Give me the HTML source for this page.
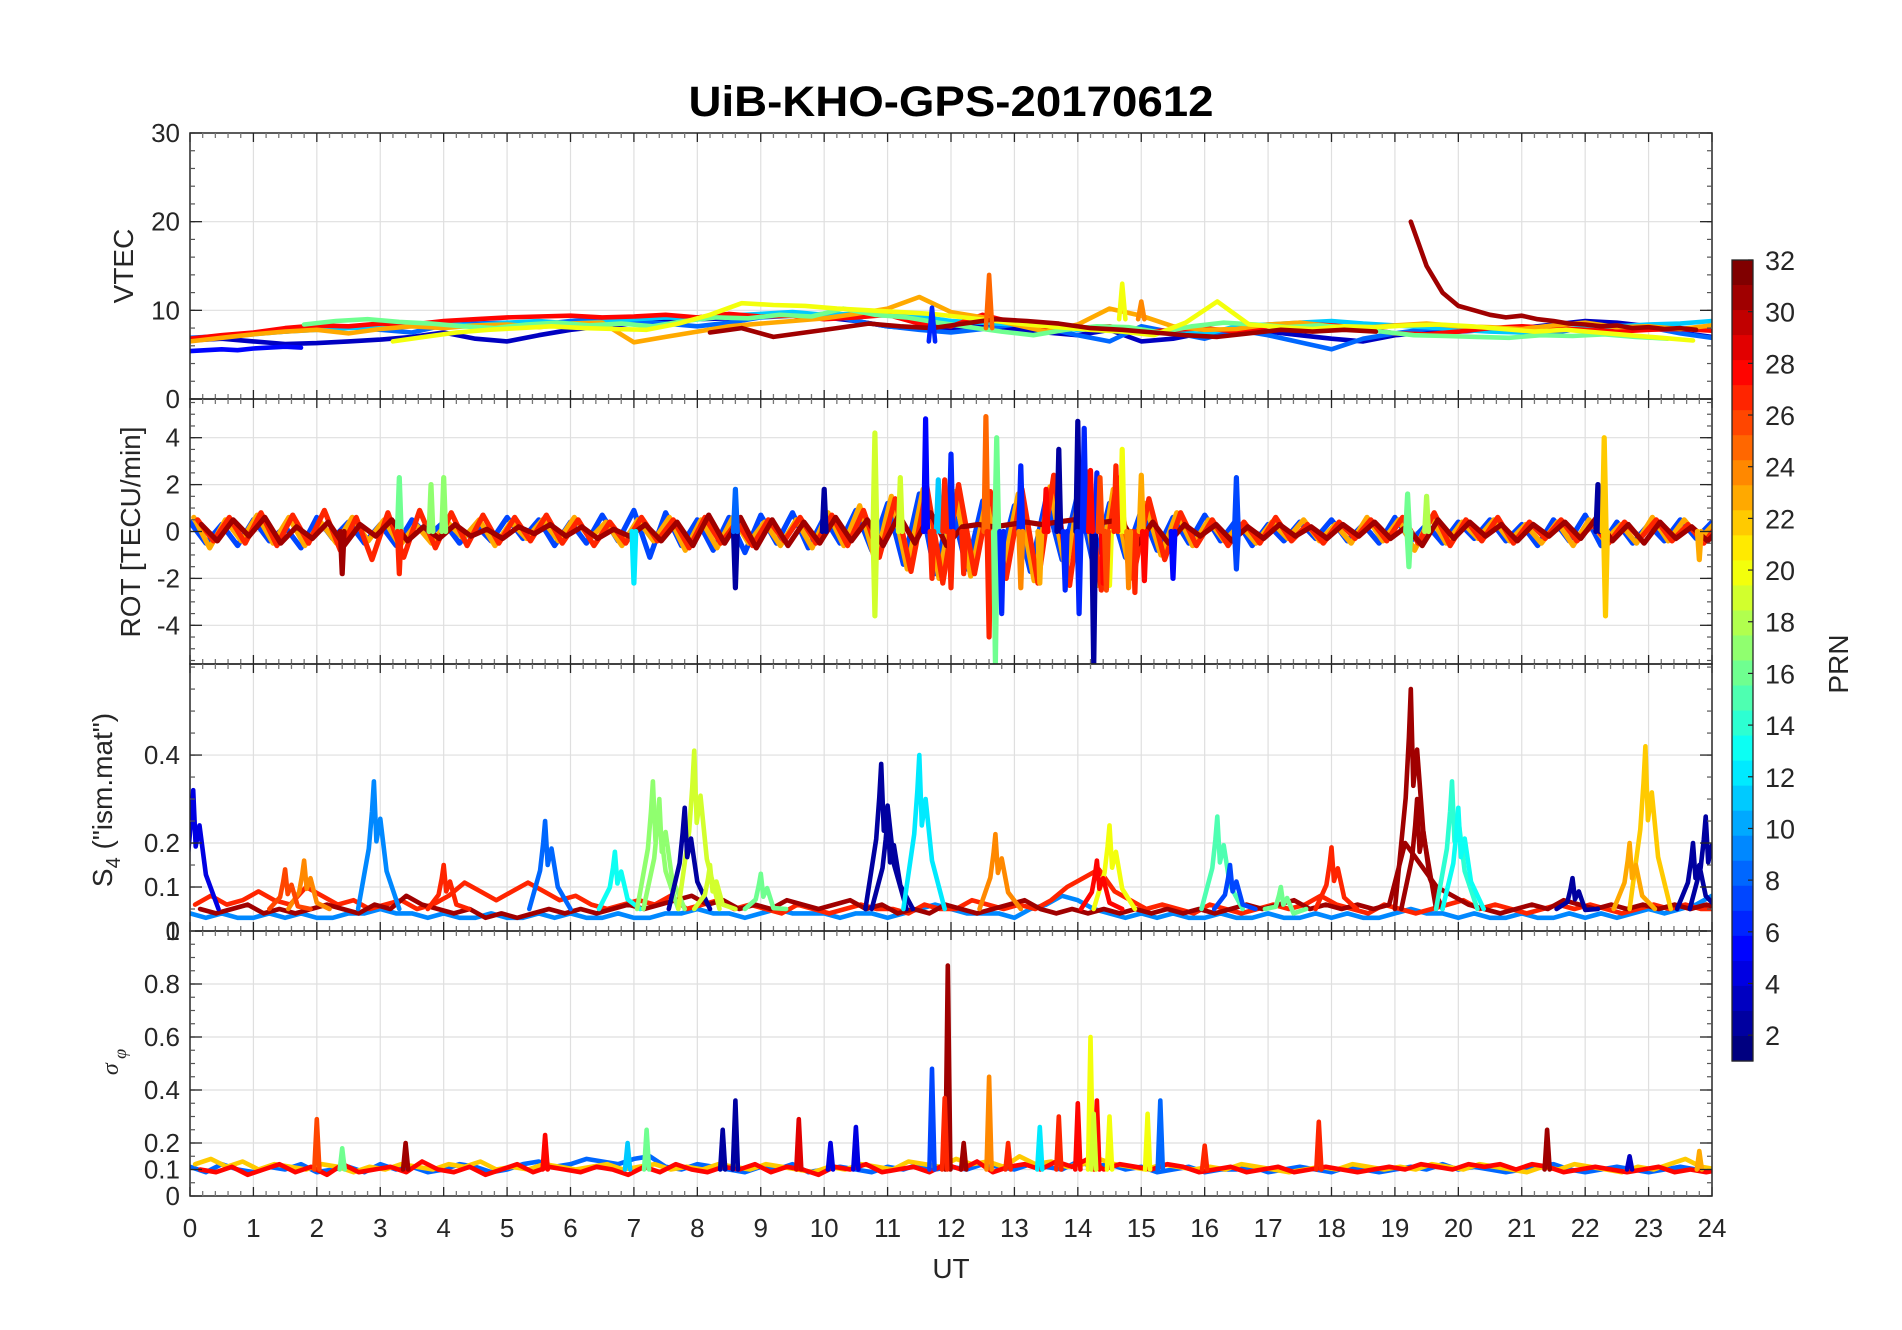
<!DOCTYPE html>
<html><head><meta charset="utf-8"><title>UiB-KHO-GPS-20170612</title>
<style>
html,body{margin:0;padding:0;background:#fff;}
svg{display:block;font-family:"Liberation Sans",Arial,sans-serif;}
</style></head>
<body>
<svg id="fig" width="1902" height="1330" viewBox="0 0 1902 1330" xmlns="http://www.w3.org/2000/svg">
<rect width="1902" height="1330" fill="#fff"/>
<text x="951" y="116" text-anchor="middle" font-size="43" font-weight="bold" textLength="525" lengthAdjust="spacingAndGlyphs" fill="#000">UiB-KHO-GPS-20170612</text>
<g id="panels"></g>
<text x="951" y="1278" text-anchor="middle" font-size="28" fill="#262626">UT</text>
<text transform="translate(133,266) rotate(-90)" text-anchor="middle" font-size="28" fill="#262626">VTEC</text>
<text transform="translate(140,532) rotate(-90)" text-anchor="middle" font-size="28" fill="#262626">ROT [TECU/min]</text>
<text transform="translate(112,800) rotate(-90)" text-anchor="middle" font-size="28" fill="#262626">S<tspan font-size="20" dy="8">4</tspan><tspan dy="-8"> ("ism.mat")</tspan></text>
<text transform="translate(118,1062) rotate(-90)" text-anchor="middle" font-size="24" font-style="italic" font-family="Liberation Serif, serif" fill="#262626">σ<tspan font-size="18" dy="8"> φ</tspan></text>
<g id="colorbar"></g>
<text transform="translate(1848,664) rotate(-90)" text-anchor="middle" font-size="28" fill="#262626">PRN</text>
</svg>
<script>
// ---------- DATA ----------
const xTicks = [0,1,2,3,4,5,6,7,8,9,10,11,12,13,14,15,16,17,18,19,20,21,22,23,24];
const vtecTicks = [0,10,20,30];
const rotTicks = [-4,-2,0,2,4];
const s4Ticks = [0,0.1,0.2,0.4];
const sigTicks = [0,0.1,0.2,0.4,0.6,0.8];
const cbTicks = [2,4,6,8,10,12,14,16,18,20,22,24,26,28,30,32];

// VTEC series: prn, start hour, step (h), values
const vtecPrn = [3,8,11,28,23,16,20,5,31,31];
const vtecT0 = [0,0,0,0,0,1.8,3.2,0,8.2,19.25];
const vtecStep = [0.5,0.5,0.5,0.5,0.5,0.5,0.5,0.25,0.5,0.25];
const vtecVals = [
 [6.6,6.8,6.5,6.2,6.3,6.5,6.7,7,7.5,6.8,6.5,7.2,7.8,8.2,8.5,8.8,9,9.1,9.3,9.5,9.2,8.8,8.2,7.9,8,8.3,7.9,7.5,7.2,7.8,6.5,6.8,7.5,7.8,7.6,7.2,6.8,6.5,7.2,7.5,7.6,7.8,8,8.4,8.8,8.6,8.2,7.5,7],
 [6.9,7.1,7.4,7.6,7.9,8.1,7.8,7.5,8.3,8.5,8.6,8.4,8.8,9,8.7,8.5,8.2,8.6,9.2,9.4,9.6,8.8,8.2,7.8,7.5,7.9,8.4,8,7.2,6.5,8.2,7.5,6.8,7.8,7.2,6.4,5.6,6.8,7.4,7.9,8.1,8,7.7,7.5,8,8.3,8.1,7.4,6.9],
 [6.6,7,7.3,7.6,7.8,8,8.2,8.3,8.4,8.3,8.6,8.8,8.5,8.7,9,9.2,9.1,9.4,9.6,9.8,9.5,9.6,9.4,9.3,8.8,8.6,8.4,8.2,7.8,8,7.5,7.6,7.3,8.2,8.4,8.6,8.8,8.5,8.3,8.1,7.8,7.6,7.5,7.8,8,8.2,8.4,8.5,8.8],
 [6.8,7.2,7.5,8,8.3,8.2,8.5,8.4,8.8,9,9.2,9.3,9.4,9.2,9.3,9.5,9.2,9.6,9.3,9.4,9,9.2,9.5,8.5,8.2,9.5,8.6,7.8,8,8.2,7.5,7.8,8,7.6,8.2,8.5,8.3,8,7.4,7.3,7.6,8,8.2,8,7.8,7.6,7.8,7.9,7.7],
 [6.5,6.9,7.3,7.6,7.8,7.4,7.9,8.2,8,8.3,8.4,8.1,8.5,8.6,6.4,7,7.6,8.2,8.5,8.8,9.1,9.6,10.2,11.5,9.8,9.2,8.4,7.6,8.4,10.2,9.4,8.2,7.8,7.9,8.4,8.6,8.2,8,8.3,8.5,8.2,8.1,7.9,8.3,8.6,8.1,8.2,7.9,8.3],
 [8.4,8.8,9,8.7,8.5,8.2,8,8.4,8.6,8.3,8.5,8.2,8.8,9.2,9.1,9.5,9.3,10.2,9.5,9.2,8.6,8.1,7.6,7.2,7.8,8.2,8.1,7.5,8.2,8.6,8.4,8.1,8.3,8,7.6,7.2,7.1,7,6.9,7.2,7.1,7.3,7,6.8],
 [6.5,7,7.5,7.8,8,8.2,8,7.9,7.8,8.5,9.5,10.8,10.6,10.5,10.2,10,9.8,9.6,9.2,8.8,8.4,8.1,7.8,7.6,7.2,8.6,11,8.4,8.1,7.9,8.2,8.1,8.3,8.4,8.2,7.9,7.6,7.8,7.5,7.2,6.9,6.6],
 [5.4,5.5,5.6,5.5,5.7,5.8,5.9,5.8],
 [7.5,8,7,7.5,8,8.5,8.2,8,8.5,9,8.8,8.5,8,7.8,7.5,7.2,7,7.4,7.8,7.6,7.8,7.6],
 [20,15,12,10.5,10,9.5,9.2,9.4,9,8.8,8.5,8.4,8.2,8.3,8,8.1,7.9,8,7.8]
];
const vtecSpikeT = [12.6,14.7,15.0,11.7];
const vtecSpikeV = [14,13,11,10.3];
const vtecSpikePrn = [25,20,24,6];
const vtecSpikeBase = [8,9,9,6.5];

// ROT baseline series (step 0.25 h from 0)
const rotPrn = [7,23,27,31];
const rotVals = [
 [0.4,-0.5,0.3,-0.6,0.5,-0.4,0.2,-0.7,0.6,-0.3,0.4,-0.5,0.3,-0.6,0.5,-0.2,0.4,-0.5,0.3,-0.4,0.6,-0.3,0.5,-0.6,0.4,-0.5,0.7,-0.4,0.9,-1.1,0.8,-0.6,0.5,-0.8,0.6,-0.9,0.7,-0.5,0.8,-0.7,0.6,-0.5,0.9,-0.8,1.2,-1.4,1.6,-1.8,1.2,-1.6,1.3,-1.5,1.1,-1.7,1.4,-1.2,1.6,-1.5,1.2,-1.1,0.9,-0.8,0.6,-0.5,0.7,-0.4,0.5,-0.6,0.3,-0.4,0.4,-0.3,0.5,-0.4,0.3,-0.5,0.6,-0.4,0.3,-0.5,0.4,-0.3,0.5,-0.4,0.3,-0.6,0.5,-0.4,0.7,-0.6,0.4,-0.5,0.3,-0.4,0.5,-0.3,0.4],
 [0.6,-0.7,0.5,-0.4,0.7,-0.5,0.6,-0.6,0.4,-0.5,0.6,-0.4,0.5,-0.6,0.3,-0.5,0.4,-0.3,0.5,-0.6,0.4,-0.3,0.5,-0.4,0.6,-0.3,0.4,-0.6,0.5,-0.4,0.6,-0.8,0.5,-0.7,0.6,-0.5,0.4,-0.6,0.5,-0.7,0.8,-0.6,1.1,-1.3,1.5,-1.6,1.8,-2,1.7,-1.9,1.4,-1.8,1.6,-2.1,1.9,-1.7,2.2,-2.3,1.8,-1.6,1.2,-1,0.8,-0.6,0.5,-0.4,0.3,-0.5,0.4,-0.3,0.5,-0.4,0.3,-0.5,0.6,-0.4,0.5,-0.8,0.6,-0.5,0.4,-0.3,0.5,-0.4,0.3,-0.5,0.4,-0.6,0.5,-0.4,0.3,-0.5,0.6,-0.4,0.5,-0.3,0.4],
 [0.5,-0.4,0.6,-0.5,0.8,-0.6,0.7,-0.5,0.9,-0.8,0.6,-1.2,0.8,-1.1,0.9,-0.7,0.8,-0.6,0.7,-0.5,0.6,-0.4,0.7,-0.5,0.5,-0.6,0.4,-0.5,0.6,-0.4,0.5,-0.7,0.6,-0.5,0.4,-0.6,0.5,-0.4,0.6,-0.5,0.7,-0.6,0.9,-1.1,1.4,-1.7,1.9,-2.2,2,-1.8,1.7,-2,1.8,-2.2,2.4,-2.3,2.6,-2.5,2.3,-2,1.4,-1.2,0.8,-0.6,0.5,-0.6,0.4,-0.5,0.6,-0.4,0.3,-0.5,0.4,-0.3,0.5,-0.4,0.6,-0.5,0.8,-0.6,0.5,-0.4,0.6,-0.5,0.4,-0.3,0.5,-0.4,0.3,-0.5,0.4,-0.3,0.5,-0.4,0.3,-0.5,0.4],
 [0.3,-0.4,0.5,-0.2,0.6,-0.5,0.2,-0.3,0.4,-0.6,0.3,-0.2,0.5,-0.4,0.2,-0.3,0.3,-0.2,0.1,-0.3,0.2,-0.1,0.3,-0.2,0.2,-0.3,0.1,-0.2,0.3,-0.4,0.4,-0.6,0.7,-0.5,0.6,-0.7,0.5,-0.6,0.4,-0.5,0.6,-0.4,0.5,-0.6,0.7,-0.5,0.8,-0.6,0.2,0.3,0.2,0.3,0.4,0.3,0.4,0.5,0.3,0.4,0.5,-0.6,0.4,-0.5,0.3,-0.2,0.3,-0.4,0.2,-0.3,0.3,-0.2,0.2,-0.3,0.3,-0.2,0.4,-0.3,0.2,-0.6,0.5,-0.3,0.4,-0.2,0.3,-0.4,0.3,-0.2,0.4,-0.3,0.6,-0.4,0.3,-0.5,0.4,-0.3,0.2,-0.4,0.3]
];
const rotSpikeT = [2.4,3.3,3.3,3.8,4.0,7.0,8.6,8.6,10.0,10.8,10.8,11.2,11.6,11.8,12.0,12.0,12.55,12.6,12.7,12.72,12.8,13.1,13.1,13.4,13.7,13.8,14.0,14.02,14.1,14.25,14.3,14.5,14.7,14.9,15.0,15.5,16.5,16.5,19.2,19.5,19.22,22.2,22.3,22.32,23.8,11.7,11.9,12.2,13.5,14.2,14.4,14.6,14.8,15.05,14.35,14.45];
const rotSpikeV = [-1.8,2.3,-1.8,2.0,2.3,-2.2,-2.4,1.8,1.8,4.2,-3.6,2.3,4.8,2.2,3.3,-2.4,4.9,-4.5,-5.6,4.0,-3.5,2.8,-2.4,-2.2,3.5,-2.5,4.7,-3.5,4.4,-5.8,2.5,-2.3,3.5,-2.6,2.4,-2.0,2.3,-1.6,1.6,1.5,-1.5,2.0,4.0,-3.6,-1.2,-2.0,2.2,-1.8,1.8,2.6,-2.2,2.8,-2.4,-2.1,2.3,-2.5];
const rotSpikePrn = [31,16,27,17,17,12,2,8,2,19,19,19,5,11,6,27,25,27,16,16,6,6,24,23,2,6,2,6,6,2,6,20,20,27,23,5,7,7,16,18,16,2,22,22,23,27,27,27,28,28,28,27,24,28,26,26];

// S4 baseline series (step 0.25 h from 0)
const s4Prn = [9,27,31];
const s4Vals = [
 [0.04,0.03,0.04,0.03,0.03,0.04,0.03,0.04,0.03,0.03,0.04,0.04,0.05,0.04,0.04,0.03,0.04,0.03,0.03,0.04,0.03,0.03,0.04,0.03,0.04,0.03,0.03,0.04,0.03,0.03,0.04,0.04,0.05,0.04,0.04,0.03,0.04,0.05,0.04,0.04,0.04,0.03,0.04,0.04,0.03,0.04,0.05,0.06,0.05,0.04,0.04,0.04,0.03,0.05,0.06,0.08,0.07,0.05,0.04,0.03,0.04,0.03,0.04,0.03,0.03,0.04,0.03,0.03,0.04,0.03,0.03,0.04,0.03,0.04,0.03,0.03,0.04,0.05,0.04,0.04,0.03,0.04,0.03,0.03,0.04,0.03,0.03,0.04,0.03,0.04,0.03,0.04,0.05,0.04,0.05,0.06,0.08],
 [0.06,0.08,0.06,0.07,0.09,0.07,0.06,0.1,0.08,0.06,0.07,0.05,0.06,0.07,0.05,0.06,0.08,0.11,0.09,0.07,0.09,0.11,0.09,0.07,0.08,0.06,0.05,0.06,0.07,0.06,0.08,0.05,0.06,0.07,0.05,0.06,0.05,0.04,0.06,0.05,0.04,0.05,0.06,0.05,0.05,0.04,0.06,0.05,0.05,0.07,0.06,0.05,0.06,0.05,0.07,0.1,0.12,0.14,0.09,0.07,0.05,0.06,0.05,0.04,0.06,0.05,0.04,0.05,0.06,0.05,0.06,0.08,0.06,0.05,0.04,0.06,0.05,0.04,0.05,0.06,0.07,0.05,0.06,0.05,0.04,0.05,0.06,0.05,0.06,0.05,0.04,0.05,0.06,0.05,0.06,0.05,0.05],
 [0.05,0.04,0.05,0.06,0.04,0.05,0.04,0.05,0.06,0.05,0.04,0.06,0.05,0.08,0.06,0.05,0.04,0.05,0.03,0.04,0.03,0.04,0.05,0.04,0.05,0.04,0.05,0.06,0.05,0.06,0.07,0.08,0.06,0.07,0.05,0.06,0.05,0.07,0.06,0.05,0.06,0.07,0.05,0.06,0.04,0.05,0.04,0.06,0.05,0.04,0.05,0.06,0.07,0.05,0.04,0.05,0.04,0.05,0.04,0.05,0.04,0.05,0.04,0.05,0.04,0.05,0.06,0.05,0.06,0.07,0.05,0.06,0.05,0.06,0.05,0.06,0.2,0.15,0.1,0.08,0.06,0.05,0.04,0.05,0.06,0.05,0.07,0.06,0.05,0.06,0.05,0.06,0.05,0.06,0.05,0.06,0.05]
];
const s4PeakT = [0.05,1.8,1.5,2.9,4.0,5.6,6.7,7.3,7.4,7.95,7.8,8.2,9.0,10.9,11.0,11.5,12.7,14.5,14.3,16.2,16.4,17.2,18.0,19.25,19.35,19.9,20.0,21.8,22.95,22.7,23.9,23.7];
const s4PeakV = [0.32,0.16,0.14,0.34,0.15,0.25,0.18,0.34,0.3,0.41,0.28,0.15,0.13,0.38,0.26,0.4,0.22,0.24,0.16,0.26,0.15,0.1,0.19,0.55,0.3,0.34,0.28,0.12,0.42,0.2,0.26,0.2];
const s4PeakPrn = [4,24,26,9,27,8,13,17,17,19,2,19,16,2,2,12,24,20,28,15,7,16,27,31,31,14,13,2,22,23,2,2];

// Sigma-phi baseline series (step 0.25 h from 0)
const sigPrn = [8,22,28];
const sigVals = [
 [0.11,0.09,0.12,0.1,0.09,0.11,0.1,0.12,0.09,0.1,0.11,0.09,0.12,0.1,0.11,0.09,0.1,0.12,0.11,0.09,0.1,0.12,0.13,0.11,0.12,0.14,0.13,0.12,0.14,0.15,0.11,0.1,0.12,0.11,0.1,0.09,0.11,0.1,0.12,0.09,0.1,0.11,0.1,0.09,0.11,0.1,0.12,0.1,0.11,0.1,0.12,0.11,0.1,0.12,0.11,0.1,0.13,0.11,0.12,0.1,0.11,0.09,0.1,0.11,0.09,0.1,0.1,0.11,0.09,0.1,0.11,0.1,0.09,0.11,0.1,0.09,0.1,0.11,0.1,0.12,0.1,0.11,0.1,0.09,0.1,0.11,0.12,0.1,0.09,0.1,0.11,0.1,0.09,0.1,0.11,0.1,0.1],
 [0.12,0.14,0.11,0.13,0.1,0.12,0.11,0.1,0.12,0.11,0.09,0.11,0.1,0.12,0.11,0.1,0.12,0.11,0.13,0.1,0.11,0.1,0.12,0.11,0.1,0.11,0.12,0.1,0.11,0.12,0.1,0.11,0.1,0.12,0.11,0.1,0.12,0.11,0.1,0.09,0.11,0.1,0.12,0.11,0.1,0.13,0.12,0.11,0.14,0.12,0.13,0.11,0.15,0.12,0.13,0.11,0.12,0.14,0.12,0.11,0.1,0.12,0.11,0.1,0.11,0.1,0.12,0.11,0.1,0.09,0.1,0.11,0.1,0.12,0.11,0.1,0.11,0.1,0.12,0.11,0.1,0.12,0.11,0.1,0.09,0.11,0.1,0.12,0.11,0.1,0.09,0.11,0.1,0.12,0.14,0.11,0.1],
 [0.1,0.09,0.11,0.08,0.1,0.12,0.09,0.11,0.08,0.12,0.09,0.1,0.11,0.09,0.13,0.1,0.09,0.11,0.08,0.1,0.12,0.09,0.11,0.1,0.09,0.11,0.1,0.08,0.11,0.09,0.12,0.1,0.09,0.11,0.1,0.12,0.09,0.11,0.1,0.08,0.11,0.1,0.12,0.09,0.1,0.11,0.09,0.12,0.1,0.13,0.09,0.11,0.12,0.1,0.13,0.11,0.14,0.1,0.12,0.11,0.1,0.12,0.11,0.09,0.1,0.11,0.09,0.1,0.11,0.09,0.1,0.11,0.1,0.09,0.1,0.11,0.1,0.12,0.11,0.1,0.12,0.11,0.12,0.1,0.12,0.11,0.09,0.1,0.11,0.1,0.09,0.1,0.11,0.09,0.1,0.09,0.1]
];
const sigPeakT = [2.0,2.4,3.4,5.6,6.9,7.2,8.4,8.6,9.6,10.1,10.5,11.7,11.95,11.9,12.2,12.6,12.9,13.4,13.7,14.2,14.0,14.3,14.5,14.25,15.1,15.3,16.0,17.8,21.4,22.7,23.8];
const sigPeakV = [0.29,0.18,0.2,0.23,0.2,0.25,0.25,0.36,0.29,0.2,0.26,0.48,0.87,0.37,0.2,0.45,0.2,0.26,0.3,0.6,0.35,0.36,0.3,0.31,0.31,0.36,0.19,0.28,0.25,0.15,0.17];
const sigPeakPrn = [26,16,31,28,11,16,2,2,29,4,4,7,31,27,31,24,27,12,27,20,28,28,20,19,20,8,27,27,31,3,23];

// ---------- RENDER ----------
const NS = 'http://www.w3.org/2000/svg';
const L = 190, R = 1712;
const panelsDef = [
 {name:'vtec', top:133, bot:399, min:0, max:30, ticks:vtecTicks, minor:2, sw:4.6},
 {name:'rot', top:399, bot:664, min:-5.65, max:5.65, ticks:rotTicks, minor:0.5, sw:5.2},
 {name:'s4', top:664, bot:931, min:0, max:0.607, ticks:s4Ticks, minor:0.05, sw:4.6},
 {name:'sigma', top:931, bot:1196, min:0, max:1, ticks:sigTicks, minor:0.05, sw:4.6}
];
function jet(prn){
  const t = (prn-1)/31;
  const c = v => Math.round(255*Math.max(0,Math.min(1,v)));
  return 'rgb('+c(1.5-Math.abs(4*t-3))+','+c(1.5-Math.abs(4*t-2))+','+c(1.5-Math.abs(4*t-1))+')';
}
function xs(h){ return L + (R-L)*h/24; }
function mk(tag, attrs, parent){
  const e = document.createElementNS(NS, tag);
  for (const k in attrs) e.setAttribute(k, attrs[k]);
  parent.appendChild(e); return e;
}
const root = document.getElementById('panels');
function fmt(v){ return (Math.round(v*100)/100).toString(); }

panelsDef.forEach(p => {
  const ys = v => p.bot - (p.bot-p.top)*(v-p.min)/(p.max-p.min);
  const g = mk('g', {}, root);
  
  
  xTicks.forEach(h => {
    if (h===0||h===24) return;
    const ln = mk('line', {x1:xs(h),x2:xs(h),y1:p.top,y2:p.bot,stroke:'#dfdfdf','stroke-width':1.2}, g);
    
    
  });
  p.ticks.forEach(v => {
    const y = ys(v);
    if (y<=p.top+1||y>=p.bot-1) return;
    const ln = mk('line', {x1:L,x2:R,y1:y,y2:y,stroke:'#dfdfdf','stroke-width':1.2}, g);
    
    
  });
  const clipId = 'clip-'+p.name;
  const cp = mk('clipPath', {id:clipId}, g);
  mk('rect', {x:L, y:p.top, width:R-L, height:p.bot-p.top}, cp);
  const dg = mk('g', {'clip-path':'url(#'+clipId+')', fill:'none','stroke-width':p.sw,'stroke-linejoin':'round','stroke-linecap':'round'}, g);
  
  

  function poly(pts, prn, name){
    const pl = mk('polyline', {points: pts.map(q=>q[0].toFixed(1)+','+q[1].toFixed(1)).join(' '), stroke: jet(prn)}, dg);
    
    
  }
  if (p.name==='vtec'){
    vtecVals.forEach((vals,i) => {
      poly(vals.map((v,k)=>[xs(vtecT0[i]+k*vtecStep[i]), ys(v)]), vtecPrn[i], 'vtec-line-prn'+vtecPrn[i]);
    });
    vtecSpikeT.forEach((t,i)=>{
      poly([[xs(t-0.05),ys(vtecSpikeBase[i])],[xs(t),ys(vtecSpikeV[i])],[xs(t+0.05),ys(vtecSpikeBase[i])]], vtecSpikePrn[i], 'vtec-spike');
    });
  } else if (p.name==='rot'){
    rotVals.forEach((vals,i) => {
      poly(vals.map((v,k)=>[xs(k*0.25 + i*0.06), ys(v)]), rotPrn[i], 'rot-line-prn'+rotPrn[i]);
    });
    rotSpikeT.forEach((t,i)=>{
      poly([[xs(t-0.03),ys(0)],[xs(t),ys(rotSpikeV[i])],[xs(t+0.03),ys(0)]], rotSpikePrn[i], 'rot-spike');
    });
  } else if (p.name==='s4'){
    s4Vals.forEach((vals,i) => {
      poly(vals.map((v,k)=>[xs(k*0.25 + i*0.08), ys(v)]), s4Prn[i], 's4-line-prn'+s4Prn[i]);
    });
    s4PeakT.forEach((t,i)=>{
      const pk = s4PeakV[i];
      poly([[xs(t-0.25),ys(0.05)],[xs(t-0.08),ys(pk*0.55)],[xs(t-0.03),ys(pk*0.8)],[xs(t),ys(pk)],[xs(t+0.04),ys(pk*0.6)],[xs(t+0.1),ys(pk*0.75)],[xs(t+0.2),ys(pk*0.4)],[xs(t+0.4),ys(0.05)]], s4PeakPrn[i], 's4-peak');
    });
  } else {
    sigVals.forEach((vals,i) => {
      poly(vals.map((v,k)=>[xs(k*0.25 + i*0.08), ys(v)]), sigPrn[i], 'sigma-line-prn'+sigPrn[i]);
    });
    sigPeakT.forEach((t,i)=>{
      poly([[xs(t-0.04),ys(0.1)],[xs(t),ys(sigPeakV[i])],[xs(t+0.04),ys(0.1)]], sigPeakPrn[i], 'sigma-peak');
    });
  }
  const box = mk('rect', {x:L, y:p.top, width:R-L, height:p.bot-p.top, fill:'none', stroke:'#262626','stroke-width':1.5}, g);
  
  
  for (let m=0; m<=120; m++){
    const h = m*0.2, x = xs(h), major = (m%5===0), len = major?9:5;
    mk('line', {x1:x,x2:x,y1:p.bot,y2:p.bot-len,stroke:major?'#262626':'#777','stroke-width':1.3}, g);
    mk('line', {x1:x,x2:x,y1:p.top,y2:p.top+len,stroke:major?'#262626':'#777','stroke-width':1.3}, g);
  }
  for (let v=Math.ceil(p.min/p.minor)*p.minor; v<=p.max+1e-9; v+=p.minor){
    const y = ys(v);
    mk('line', {x1:L,x2:L+5,y1:y,y2:y,stroke:'#555','stroke-width':1.2}, g);
    mk('line', {x1:R,x2:R-5,y1:y,y2:y,stroke:'#555','stroke-width':1.2}, g);
  }
  p.ticks.forEach(v => {
    const y = ys(v);
    mk('line', {x1:L,x2:L+12,y1:y,y2:y,stroke:'#262626','stroke-width':1.3}, g);
    mk('line', {x1:R,x2:R-12,y1:y,y2:y,stroke:'#262626','stroke-width':1.3}, g);
    const tx = mk('text', {x:180, y:y+9, 'text-anchor':'end', 'font-size':26, fill:'#262626'}, g);
    tx.textContent = fmt(v);
    
    
  });
  if (p.name==='sigma'){
    const tx = mk('text', {x:180, y:p.top+9, 'text-anchor':'end', 'font-size':26, fill:'#262626'}, g);
    tx.textContent = '1';
    
    
  }
});
xTicks.forEach(h => {
  const tx = mk('text', {x:xs(h), y:1237, 'text-anchor':'middle', 'font-size':26, fill:'#262626'}, root);
  tx.textContent = h;
  
  
});
const cb = document.getElementById('colorbar');
const cbL = 1732, cbR = 1753, cbT = 260, cbB = 1061, cbMin = 1, cbMax = 32;
const cy = v => cbB - (cbB-cbT)*(v-cbMin)/(cbMax-cbMin);
for (let i=0;i<32;i++){
  const y1 = cbT + (cbB-cbT)*i/32, y2 = cbT + (cbB-cbT)*(i+1)/32;
  const r = mk('rect', {x:cbL, y:y1, width:cbR-cbL, height:y2-y1+0.6, fill:jet(32-i)}, cb);
  
  
}
mk('rect', {x:cbL, y:cbT, width:cbR-cbL, height:cbB-cbT, fill:'none', stroke:'#262626','stroke-width':1.3}, cb);
cbTicks.forEach(v => {
  const y = cy(v);
  mk('line', {x1:cbR,x2:cbR-5,y1:y,y2:y,stroke:'#262626','stroke-width':1.2}, cb);
  const tx = mk('text', {x:1765, y:y+10, 'font-size':27, fill:'#262626'}, cb);
  tx.textContent = v;
  
  
});
</script>
</body></html>
